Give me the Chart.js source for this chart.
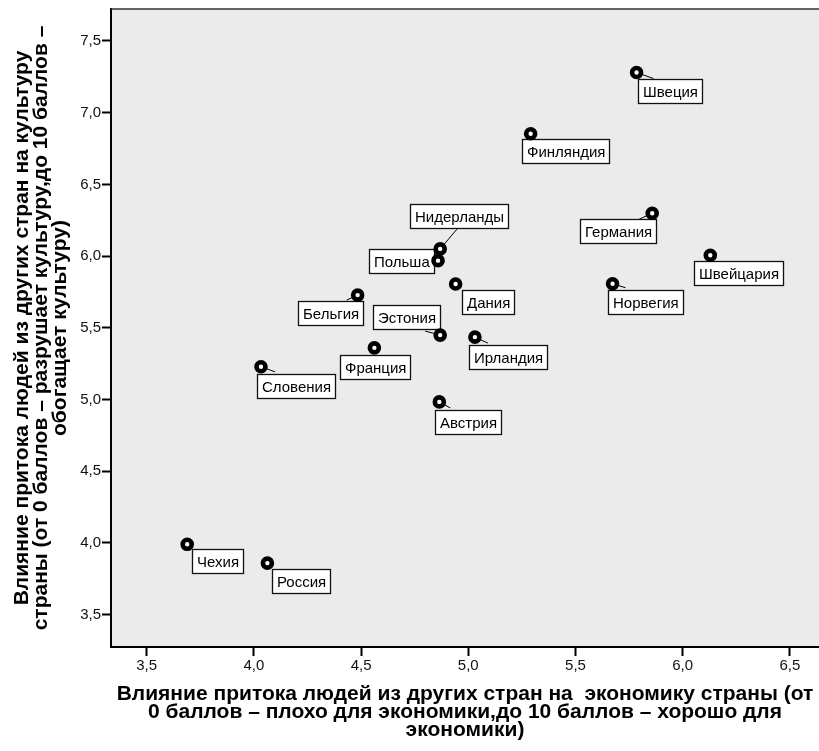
<!DOCTYPE html>
<html><head><meta charset="utf-8">
<script src="https://cdn.jsdelivr.net/npm/chart.js@4.4.1/dist/chart.umd.min.js"></script>
<style>html,body{margin:0;padding:0;background:#fff;overflow:hidden}canvas{display:block}</style>
</head><body>
<canvas id="c" width="819" height="751"></canvas>
<script>
// ---- data ----
const countries = ["Швеция","Финляндия","Германия","Швейцария","Норвегия","Нидерланды","Польша","Дания","Эстония","Ирландия","Австрия","Франция","Бельгия","Словения","Чехия","Россия"];
const economyScores = [5.785,5.291,5.858,6.129,5.673,4.869,4.859,4.941,4.869,5.031,4.865,4.562,4.484,4.033,3.689,4.063];
const cultureScores = [7.280,6.853,6.299,6.006,5.807,6.050,5.968,5.805,5.449,5.435,4.983,5.360,5.728,5.228,3.990,3.859];
const xTickValues = [3.5,4.0,4.5,5.0,5.5,6.0,6.5];
const yTickValues = [3.5,4.0,4.5,5.0,5.5,6.0,6.5,7.0,7.5];
const xTitleLines = ["Влияние притока людей из других стран на  экономику страны (от","0 баллов – плохо для экономики,до 10 баллов – хорошо для","экономики)"];
const yTitleLines = ["Влияние притока людей из других стран на культуру","страны (от 0 баллов – разрушает культуру,до 10 баллов –","обогащает культуру)"];

// ---- label layout (pixel offsets of label box / leader end from each point) ----
const labelBoxOffset = [[1,6],[-9,5],[-72,6],[-16,6],[-5,6],[-30,-45],[-69,-12],[6,6],[-67,-30],[-6,8],[-4,8],[-34,7],[-60,6],[-4,7],[5,5],[5,6]];
const leaderEnd = [[17,6],null,[-13,6],null,[13,4],[17,-20],null,null,[-15,-4],[13,6],[11,6],null,[-11,5],[14,5],null,null];

const points = economyScores.map((x,i)=>({x:x,y:cultureScores[i]}));
const fmt = v => v.toFixed(1).replace('.', ',');
const TICK_FONT = "'Liberation Sans', Arial, sans-serif";
const TITLE_FONT = "bold 21px 'Liberation Sans', Arial, sans-serif";

const framePlugin = {
  id:'frame',
  beforeDraw(chart){
    const {ctx, chartArea:a} = chart;
    ctx.save();
    ctx.fillStyle = '#ebebeb';
    ctx.fillRect(a.left, a.top, chart.width-a.left, a.bottom-a.top);
    ctx.restore();
  },
  beforeDatasetsDraw(chart){
    const {ctx} = chart;
    const meta = chart.getDatasetMeta(0);
    ctx.save();
    ctx.font = "15px " + TICK_FONT;
    meta.data.forEach((el,i)=>{
      const px = el.x, py = el.y;
      const le = leaderEnd[i];
      if (le){
        ctx.strokeStyle = '#000'; ctx.lineWidth = 1;
        ctx.beginPath(); ctx.moveTo(px,py); ctx.lineTo(px+le[0], py+le[1]); ctx.stroke();
      }
      const tw = ctx.measureText(countries[i]).width;
      const bx = Math.round(px + labelBoxOffset[i][0]) + 0.5;
      const by = Math.round(py + labelBoxOffset[i][1]) + 0.5;
      const bw = Math.round(tw + 9), bh = 24;
      ctx.fillStyle = '#fff';
      ctx.fillRect(bx, by, bw, bh);
      ctx.strokeStyle = '#111'; ctx.lineWidth = 1.3;
      ctx.strokeRect(bx, by, bw, bh);
      ctx.fillStyle = '#000';
      ctx.textBaseline = 'middle'; ctx.textAlign = 'left';
      ctx.fillText(countries[i], bx + 4.5, by + bh/2 + 1);
    });
    ctx.restore();
  },
  afterDraw(chart){
    const {ctx, chartArea:a} = chart;
    ctx.save();
    // top frame line
    ctx.strokeStyle = '#333'; ctx.lineWidth = 1.5;
    ctx.beginPath(); ctx.moveTo(a.left, a.top); ctx.lineTo(chart.width, a.top); ctx.stroke();
    // axis titles
    ctx.fillStyle = '#000';
    ctx.font = TITLE_FONT;
    ctx.textAlign = 'center'; ctx.textBaseline = 'middle';
    const cx = (a.left + chart.width)/2;
    xTitleLines.forEach((t,i)=> ctx.fillText(t, cx, 694 + i*18));
    const cy = (a.top + a.bottom)/2;
    yTitleLines.forEach((t,i)=>{
      ctx.save();
      ctx.translate(22 + i*19, cy);
      ctx.rotate(-Math.PI/2);
      ctx.fillText(t, 0, 0);
      ctx.restore();
    });
    ctx.restore();
  }
};

new Chart(document.getElementById('c'), {
  type:'scatter',
  data:{datasets:[{
    data: points,
    pointRadius: 4.5,
    pointHoverRadius: 4.5,
    pointBorderWidth: 4.6,
    pointBackgroundColor: '#fff',
    pointBorderColor: '#000',
    clip: false
  }]},
  options:{
    responsive:false,
    animation:false,
    devicePixelRatio:1,
    layout:{autoPadding:false, padding:{top:9,right:0,left:0,bottom:0}},
    plugins:{legend:{display:false}, tooltip:{enabled:false}},
    events:[],
    scales:{
      x:{
        type:'linear', min:3.3335, max:6.636,
        afterFit(s){ s.height = 104; s.paddingLeft = 0; s.paddingRight = 0; },
        afterBuildTicks(s){ s.ticks = xTickValues.map(v=>({value:v})); },
        grid:{drawOnChartArea:false, tickLength:9, tickWidth:2, tickColor:'#000'},
        border:{display:true, color:'#000', width:2},
        ticks:{padding:1, color:'#111', font:{family:TICK_FONT, size:15}, maxRotation:0, autoSkip:false, callback:v=>fmt(v)}
      },
      y:{
        type:'linear', min:3.274, max:7.723,
        afterFit(s){ s.width = 111; s.paddingTop = 0; s.paddingBottom = 0; },
        afterBuildTicks(s){ s.ticks = yTickValues.map(v=>({value:v})); },
        grid:{drawOnChartArea:false, tickLength:9, tickWidth:2, tickColor:'#000'},
        border:{display:true, color:'#000', width:2},
        ticks:{padding:1, color:'#111', font:{family:TICK_FONT, size:15}, autoSkip:false, callback:v=>fmt(v)}
      }
    }
  },
  plugins:[framePlugin]
});
</script>
</body></html>
